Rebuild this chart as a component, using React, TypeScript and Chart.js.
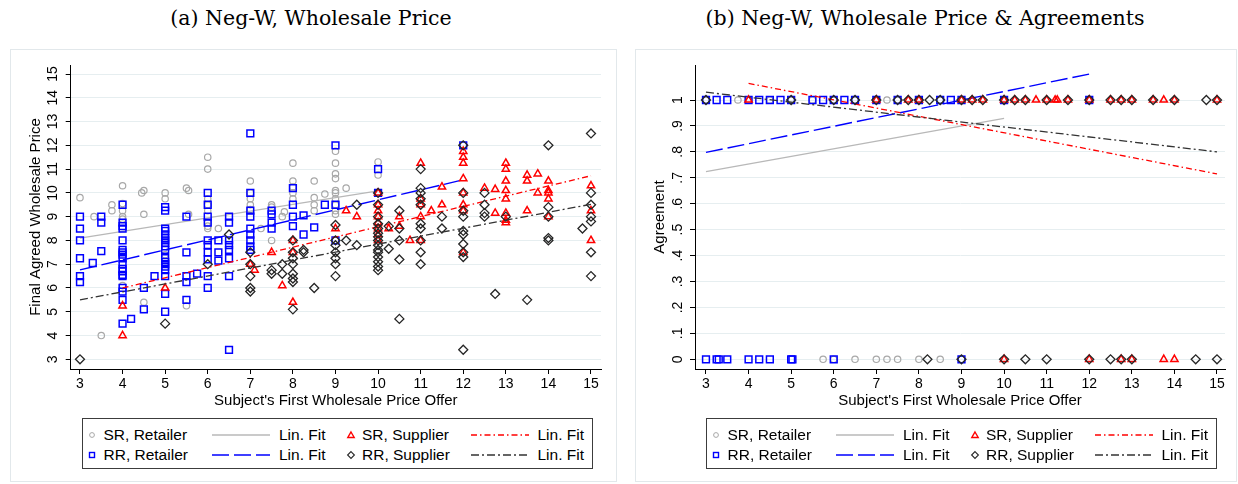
import React, { useEffect, useRef } from 'react';
import { Chart, registerables } from 'chart.js';

Chart.register(...registerables);

const SANS = "'Liberation Sans', Arial, Helvetica, sans-serif";
const SERIF = "'DejaVu Serif', 'Liberation Serif', serif";

const X_TICKS = [3, 4, 5, 6, 7, 8, 9, 10, 11, 12, 13, 14, 15];
const Y_TICKS_A = [3, 4, 5, 6, 7, 8, 9, 10, 11, 12, 13, 14, 15];
const Y_TICKS_B = [0, 0.1, 0.2, 0.3, 0.4, 0.5, 0.6, 0.7, 0.8, 0.9, 1];

const LEGEND_LABELS = ['SR, Retailer', 'RR, Retailer', 'SR, Supplier', 'RR, Supplier'];
const FIT_LABEL = 'Lin. Fit';
const X_TITLE = "Subject's First Wholesale Price Offer";
const Y_TITLE_A = 'Final Agreed Wholesale Price';
const Y_TITLE_B = 'Agreement';
const TITLE_A = '(a) Neg-W, Wholesale Price';
const TITLE_B = '(b) Neg-W, Wholesale Price & Agreements';

// ---------- Panel (a): final agreed wholesale price ----------
const SR_RETAILER_A: [number, number][] = [
  [3, 9.8], [3.33, 9.0], [3.5, 4.0], [3.75, 9.5], [3.75, 9.25],
  [4, 10.3], [4, 9.55], [4, 9.25], [4, 9.0], [4, 8.9], [4, 6.1],
  [4.45, 10.0], [4.5, 10.1], [4.5, 9.1], [4.5, 5.4],
  [5, 10.0], [5, 9.75], [5, 7.4],
  [5.5, 10.2], [5.55, 10.1], [5.55, 9.1], [5.5, 5.25],
  [6, 11.5], [6, 11.0], [6, 9.75], [6, 9.5], [6, 9.25], [6, 8.75], [6, 8.6], [6, 8.5], [6.25, 8.5],
  [7, 10.5], [7, 10.0], [7, 9.75], [7, 9.5], [7, 9.3], [7.25, 8.5],
  [7.5, 9.5], [7.5, 9.4], [7.5, 8.0], [7.75, 9.0], [7.8, 9.2],
  [8, 11.25], [8, 10.5], [8, 10.25], [8, 10.0], [8, 9.75],
  [8.5, 10.5], [8.5, 9.8], [8.5, 9.5], [8.5, 9.25], [8.75, 9.95],
  [9, 11.75], [9, 11.25], [9, 10.8], [9, 10.6], [9, 10.1], [9, 10.0], [9, 9.75], [9, 9.5], [9, 9.25], [9, 9.1],
  [9.25, 10.2],
  [10, 11.3], [10, 10.75], [10, 10.0],
];

const RR_RETAILER_A: [number, number][] = [
  [3, 9.0], [3, 8.5], [3, 8.0], [3, 7.25], [3, 6.5], [3, 6.25],
  [3.3, 7.05],
  [3.5, 9.0], [3.5, 8.75], [3.5, 7.55],
  [4, 9.5], [4, 8.75], [4, 8.6], [4, 8.5], [4, 8.0], [4, 7.6], [4, 7.5], [4, 7.4], [4, 7.25], [4, 7.0],
  [4, 6.8], [4, 6.7], [4, 6.55], [4, 6.5], [4, 6.0], [4, 5.85], [4, 5.5], [4, 4.5],
  [4.2, 4.7], [4.5, 6.0], [4.5, 5.1], [4.75, 6.5],
  [5, 9.4], [5, 9.25], [5, 8.5], [5, 8.4], [5, 8.25], [5, 8.1], [5, 8.0], [5, 7.9], [5, 7.75], [5, 7.6],
  [5, 7.25], [5, 7.1], [5, 7.0], [5, 6.9], [5, 6.75], [5, 6.5], [5, 5.75], [5, 5.0],
  [5.5, 9.0], [5.5, 7.5], [5.5, 6.5], [5.5, 6.25], [5.5, 5.5],
  [5.75, 6.6],
  [6, 10.0], [6, 9.5], [6, 9.0], [6, 8.75], [6, 8.0], [6, 7.8], [6, 7.5], [6, 7.2], [6, 6.5], [6, 6.0],
  [6.25, 8.0], [6.25, 7.5], [6.25, 7.15],
  [6.5, 9.0], [6.5, 8.75], [6.5, 8.0], [6.5, 7.8], [6.5, 7.6], [6.5, 7.25], [6.5, 6.5], [6.5, 3.4],
  [7, 12.5], [7, 10.0], [7, 9.25], [7, 9.0], [7, 8.5], [7, 8.25], [7, 8.0], [7, 7.75], [7, 7.6],
  [7.5, 9.25], [7.5, 9.1], [7.5, 8.75], [7.5, 8.5],
  [8, 10.2], [8, 9.5], [8, 9.0], [8, 8.6],
  [8.25, 9.05], [8.25, 8.25], [8.5, 8.55], [8.75, 9.5],
  [9, 12.0], [9, 9.5], [9, 8.0],
  [10, 11.0], [10, 10.0],
  [12, 12.0],
];

const SR_SUPPLIER_A: [number, number][] = [
  [4, 5.25], [4, 4.0], [5, 6.0], [7, 7.0], [7.1, 6.75], [7.5, 7.5], [7.75, 6.1],
  [8, 8.0], [8, 7.5], [8, 5.4], [9, 8.5], [9.25, 9.25], [9.5, 9.0],
  [10, 10.0], [10, 9.5], [10, 9.25], [10, 9.0], [10, 8.75], [10, 8.5], [10, 8.25], [10, 8.0],
  [10.25, 8.5], [10.5, 9.0], [10.5, 8.6], [10.75, 8.0],
  [11, 11.25], [11, 9.75], [11, 9.5], [11, 9.0], [11, 8.0],
  [11.25, 9.25], [11.5, 10.25], [11.5, 9.5],
  [12, 11.75], [12, 11.5], [12, 11.25], [12, 10.6], [12, 10.0], [12, 9.5], [12, 9.25], [12, 7.5],
  [12.5, 10.2], [12.75, 10.15], [12.75, 9.15],
  [13, 11.25], [13, 11.0], [13, 10.5], [13, 10.1], [13, 9.75], [13, 9.15], [13, 8.85], [13, 8.75],
  [13.5, 10.75], [13.5, 10.5], [13.5, 9.25], [13.75, 10.8], [13.75, 10.0],
  [14, 10.5], [14, 10.1], [14, 10.0], [14, 9.75], [14, 9.0],
  [15, 10.3], [15, 9.25], [15, 8.0],
];

const RR_SUPPLIER_A: [number, number][] = [
  [3, 3.0], [5, 4.5], [6, 7.0], [6.5, 8.25],
  [7, 7.5], [7, 7.0], [7, 6.5], [7, 6.0], [7, 5.85],
  [7.5, 6.75], [7.5, 6.6], [7.75, 7.0], [7.75, 6.6],
  [8, 8.0], [8, 7.5], [8, 7.25], [8, 7.0], [8, 6.6], [8, 6.4], [8, 6.25], [8, 5.1],
  [8.25, 7.6], [8.25, 7.5], [8.5, 6.0],
  [9, 8.65], [9, 8.0], [9, 7.8], [9, 7.5], [9, 7.25], [9, 7.0], [9, 6.5],
  [9.25, 8.0], [9.5, 9.5], [9.5, 7.8],
  [10, 10.0], [10, 9.5], [10, 9.0], [10, 8.7], [10, 8.5], [10, 8.3], [10, 8.15], [10, 8.0], [10, 7.8],
  [10, 7.6], [10, 7.5], [10, 7.3], [10, 7.1], [10, 6.9], [10, 6.75],
  [10.25, 8.6], [10.25, 7.65],
  [10.5, 9.25], [10.5, 8.5], [10.5, 8.0], [10.5, 7.2], [10.5, 4.7],
  [11, 11.0], [11, 10.2], [11, 10.0], [11, 9.75], [11, 9.5], [11, 8.7], [11, 8.5], [11, 8.0], [11, 7.5], [11, 7.0],
  [11.5, 9.0], [11.5, 8.5],
  [12, 12.0], [12, 10.0], [12, 9.25], [12, 9.0], [12, 8.4], [12, 8.25], [12, 7.85], [12, 7.5], [12, 7.3], [12, 3.4],
  [12.5, 10.0], [12.5, 9.5], [12.5, 9.15], [12.5, 9.0],
  [12.75, 5.75], [13, 9.0], [13.5, 5.5],
  [14, 12.0], [14, 9.4], [14, 9.0], [14, 8.1], [14, 8.0],
  [14.8, 8.5],
  [15, 12.5], [15, 10.0], [15, 9.5], [15, 9.0], [15, 8.8], [15, 7.5], [15, 6.5],
];

const FIT_SR_RETAILER_A: [number, number][] = [[3, 8.1], [10, 10.08]];
const FIT_RR_RETAILER_A: [number, number][] = [[3, 6.76], [12, 10.55]];
const FIT_SR_SUPPLIER_A: [number, number][] = [[4, 6.0], [15, 10.72]];
const FIT_RR_SUPPLIER_A: [number, number][] = [[3, 5.5], [15, 9.52]];

// ---------- Panel (b): agreement (1) / no agreement (0) ----------
const SR_RETAILER_AGREE = [3, 3.75, 4, 4.5, 5, 5.5, 6, 6.5, 7, 7.25, 7.5, 8, 8.5, 9, 10];
const SR_RETAILER_NOAGREE = [5.75, 6, 6.5, 7, 7.25, 7.5, 8, 8.5, 9];
const RR_RETAILER_AGREE = [3, 3.25, 3.5, 4, 4.25, 4.5, 4.75, 5, 5.5, 5.75, 6, 6.25, 6.5, 7, 7.5, 8, 8.5, 8.75, 9, 10, 12];
const RR_RETAILER_NOAGREE = [3, 3.25, 3.3, 3.5, 4, 4.25, 4.5, 5, 5.03, 6, 9];
const SR_SUPPLIER_AGREE = [4, 7, 7.75, 8, 9, 9.25, 9.5, 10, 10.25, 10.5, 10.75, 11, 11.2, 11.25, 11.5, 12, 12.5, 12.75, 13, 13.5, 13.75, 14, 15];
const SR_SUPPLIER_NOAGREE = [10, 12, 12.75, 13, 13.75, 14];
const RR_SUPPLIER_AGREE = [3, 5, 6, 6.5, 7, 7.5, 7.75, 8, 8.25, 8.5, 9, 9.25, 9.5, 10, 10.25, 10.5, 11, 11.5, 12, 12.5, 12.75, 13, 13.5, 14, 14.75, 15];
const RR_SUPPLIER_NOAGREE = [8.2, 9, 10, 10.5, 11, 12, 12.5, 12.75, 13, 14.5, 15];

const FIT_SR_RETAILER_B: [number, number][] = [[3, 0.724], [10, 0.929]];
const FIT_RR_RETAILER_B: [number, number][] = [[3, 0.798], [12, 1.1]];
const FIT_SR_SUPPLIER_B: [number, number][] = [[4, 1.064], [15, 0.715]];
const FIT_RR_SUPPLIER_B: [number, number][] = [[3, 1.03], [15, 0.8]];

// ---------- styles ----------
const GRAY_MK = '#a8a8a8';
const GRAY_LN = '#b8b8b8';
const BLUE = '#0000ff';
const RED = '#ff0000';
const DARK = '#262626';
const GRID = '#e6eef0';
const DASH_BLUE = [17, 5];
const DASH_RED = [6, 3, 1.5, 3];
const DASH_DARK = [8, 3, 2, 3];

const toPts = (a: [number, number][]) => a.map(([x, y]) => ({ x, y }));
const binPts = (ones: number[], zeros: number[]) => [
  ...ones.map((x) => ({ x, y: 1 })),
  ...zeros.map((x) => ({ x, y: 0 })),
];

type Spec = {
  srRet: any[]; rrRet: any[]; srSup: any[]; rrSup: any[];
  fSrRet: any[]; fRrRet: any[]; fSrSup: any[]; fRrSup: any[];
  xMin: number; xMax: number; yMin: number; yMax: number;
  yTicks: number[]; yFmt: (v: number) => string;
  yTitle: string; yWidth: number; yTickPad: number; yTitlePad: number; padRight: number;
};

function makeConfig(s: Spec): any {
  const marker = (label: string, data: any[], style: string, r: number, color: string, bw: number, order: number) => ({
    label, data, order, showLine: false,
    pointStyle: style, pointRadius: r, pointHoverRadius: r,
    pointBorderColor: color, pointBackgroundColor: 'rgba(0,0,0,0)', pointBorderWidth: bw,
    borderColor: color, backgroundColor: 'rgba(0,0,0,0)',
  });
  const fit = (data: any[], color: string, w: number, dash: number[], order: number) => ({
    label: FIT_LABEL, data, order, showLine: true, pointRadius: 0, pointHoverRadius: 0,
    borderColor: color, borderWidth: w, borderDash: dash, backgroundColor: 'rgba(0,0,0,0)',
  });
  return {
    type: 'scatter',
    data: {
      datasets: [
        marker(LEGEND_LABELS[0], s.srRet, 'circle', 3.2, GRAY_MK, 1.2, 8),
        fit(s.fSrRet, GRAY_LN, 1.3, [], 7),
        marker(LEGEND_LABELS[1], s.rrRet, 'rect', 4.8, BLUE, 1.5, 6),
        fit(s.fRrRet, BLUE, 1.4, DASH_BLUE, 5),
        marker(LEGEND_LABELS[2], s.srSup, 'triangle', 4.2, RED, 1.5, 4),
        fit(s.fSrSup, RED, 1.3, DASH_RED, 3),
        marker(LEGEND_LABELS[3], s.rrSup, 'rectRot', 4.5, DARK, 1.3, 2),
        fit(s.fRrSup, '#333333', 1.3, DASH_DARK, 1),
      ],
    },
    options: {
      responsive: false,
      animation: false,
      events: [],
      devicePixelRatio: 1,
      layout: { padding: { left: 0, right: s.padRight, top: 15, bottom: 66 } },
      plugins: { legend: { display: false }, tooltip: { enabled: false }, title: { display: false } },
      scales: {
        x: {
          type: 'linear',
          min: s.xMin,
          max: s.xMax,
          afterBuildTicks: (sc: any) => { sc.ticks = X_TICKS.map((v) => ({ value: v })); },
          afterFit: (sc: any) => { sc.height = 45; },
          grid: { display: true, drawOnChartArea: false, drawTicks: true, tickLength: 5, tickColor: '#000', color: '#000' },
          border: { display: true, color: '#000', width: 1 },
          ticks: { padding: 2, color: '#000', autoSkip: false, maxRotation: 0, font: { family: SANS, size: 14 } },
          title: { display: true, text: X_TITLE, color: '#000', font: { family: SANS, size: 15 }, padding: { top: 0, bottom: 4 } },
        },
        y: {
          type: 'linear',
          min: s.yMin,
          max: s.yMax,
          afterBuildTicks: (sc: any) => { sc.ticks = s.yTicks.map((v) => ({ value: v })); },
          afterFit: (sc: any) => { sc.width = s.yWidth; },
          grid: { display: true, color: GRID, lineWidth: 1, drawTicks: true, tickLength: 5, tickColor: '#000' },
          border: { display: true, color: '#000', width: 1 },
          ticks: {
            padding: s.yTickPad, color: '#000', minRotation: 90, maxRotation: 90, crossAlign: 'center',
            font: { family: SANS, size: 14 },
            callback: (v: any) => s.yFmt(Number(v)),
          },
          title: { display: true, text: s.yTitle, color: '#000', font: { family: SANS, size: 15 }, padding: { top: s.yTitlePad, bottom: 0 } },
        },
      },
    },
  };
}

const SPEC_A: Spec = {
  srRet: toPts(SR_RETAILER_A), rrRet: toPts(RR_RETAILER_A), srSup: toPts(SR_SUPPLIER_A), rrSup: toPts(RR_SUPPLIER_A),
  fSrRet: toPts(FIT_SR_RETAILER_A), fRrRet: toPts(FIT_RR_RETAILER_A), fSrSup: toPts(FIT_SR_SUPPLIER_A), fRrSup: toPts(FIT_RR_SUPPLIER_A),
  xMin: 2.782, xMax: 15.235, yMin: 2.592, yMax: 15.379,
  yTicks: Y_TICKS_A, yFmt: (v) => String(v),
  yTitle: Y_TITLE_A, yWidth: 60.7, yTickPad: 4.6, yTitlePad: 17, padRight: 15,
};

const SPEC_B: Spec = {
  srRet: binPts(SR_RETAILER_AGREE, SR_RETAILER_NOAGREE),
  rrRet: binPts(RR_RETAILER_AGREE, RR_RETAILER_NOAGREE),
  srSup: binPts(SR_SUPPLIER_AGREE, SR_SUPPLIER_NOAGREE),
  rrSup: binPts(RR_SUPPLIER_AGREE, RR_SUPPLIER_NOAGREE),
  fSrRet: toPts(FIT_SR_RETAILER_B), fRrRet: toPts(FIT_RR_RETAILER_B), fSrSup: toPts(FIT_SR_SUPPLIER_B), fRrSup: toPts(FIT_RR_SUPPLIER_B),
  xMin: 2.742, xMax: 15.188, yMin: -0.0374, yMax: 1.135,
  yTicks: Y_TICKS_B,
  yFmt: (v) => (Math.abs(v) < 1e-9 ? '0' : Math.abs(v - 1) < 1e-9 ? '1' : '.' + Math.round(v * 10)),
  yTitle: Y_TITLE_B, yWidth: 60, yTickPad: 6.2, yTitlePad: 16, padRight: 11,
};

function ChartCanvas({ spec, left, top, width, height }: { spec: Spec; left: number; top: number; width: number; height: number }) {
  const ref = useRef<HTMLCanvasElement>(null);
  useEffect(() => {
    const chart = new Chart(ref.current as HTMLCanvasElement, makeConfig(spec));
    return () => chart.destroy();
  }, [spec]);
  return (
    <canvas ref={ref} width={width} height={height}
      style={{ position: 'absolute', left, top, width, height, display: 'block' }} />
  );
}

function MarkerIcon({ kind }: { kind: number }) {
  const common = { fill: 'none' } as any;
  let shape: any = null;
  if (kind === 0) shape = <circle cx={6} cy={6} r={2.4} stroke={GRAY_MK} strokeWidth={1} {...common} />;
  if (kind === 1) shape = <rect x={3.5} y={3.5} width={5} height={5} stroke={BLUE} strokeWidth={1.4} {...common} />;
  if (kind === 2) shape = <polygon points="6,3 9.2,8.5 2.8,8.5" stroke={RED} strokeWidth={1.4} {...common} />;
  if (kind === 3) shape = <polygon points="6,2.6 9.4,6 6,9.4 2.6,6" stroke={DARK} strokeWidth={1.1} {...common} />;
  return <svg width={12} height={12} style={{ display: 'block' }}>{shape}</svg>;
}

function LineIcon({ color, dash, w }: { color: string; dash: number[]; w: number }) {
  return (
    <svg width={58} height={4} style={{ display: 'block' }}>
      <line x1={0} y1={2} x2={58} y2={2} stroke={color} strokeWidth={w}
        strokeDasharray={dash.length ? dash.join(' ') : undefined} />
    </svg>
  );
}

function Legend({ left }: { left: number }) {
  const rowY = [16, 36];
  const textStyle: React.CSSProperties = {
    position: 'absolute', fontFamily: SANS, fontSize: 15.5, lineHeight: '18px', color: '#000', whiteSpace: 'nowrap',
  };
  const cells: any[] = [];
  const lines = [
    { color: GRAY_LN, dash: [] as number[], w: 1.3 },
    { color: BLUE, dash: DASH_BLUE, w: 1.4 },
    { color: RED, dash: DASH_RED, w: 1.3 },
    { color: '#333333', dash: DASH_DARK, w: 1.3 },
  ];
  // layout: col0 marker, col1 line, col2 marker, col3 line
  const order = [[0, 2], [1, 3]];
  order.forEach((pair, row) => {
    const y = rowY[row];
    pair.forEach((k, c) => {
      const base = c === 0 ? 0 : 258.5;
      cells.push(
        <div key={`m${row}${c}`} style={{ position: 'absolute', left: base + 9 - 6, top: y - 6 }}><MarkerIcon kind={k} /></div>,
        <div key={`t${row}${c}`} style={{ ...textStyle, left: base + 20.5, top: y - 9 }}>{LEGEND_LABELS[k]}</div>,
        <div key={`l${row}${c}`} style={{ position: 'absolute', left: base + 129, top: y - 2 }}><LineIcon {...lines[k]} /></div>,
        <div key={`f${row}${c}`} style={{ ...textStyle, left: base + 196, top: y - 9 }}>{FIT_LABEL}</div>,
      );
    });
  });
  return (
    <div style={{ position: 'absolute', left, top: 418, width: 511, height: 51, border: '1px solid #3c3c3c', boxSizing: 'border-box', background: '#fff' }}>
      {cells}
    </div>
  );
}

function Title({ text, center }: { text: string; center: number }) {
  return (
    <div style={{
      position: 'absolute', left: center - 300, width: 600, top: 5, height: 26, lineHeight: '26px',
      textAlign: 'center', fontFamily: SERIF, fontSize: 20.5, color: '#000', whiteSpace: 'nowrap',
    }}>{text}</div>
  );
}

export default function App() {
  return (
    <div style={{ position: 'absolute', left: 0, top: 0, width: 1238, height: 484, background: '#fff', overflow: 'hidden' }}>
      <Title text={TITLE_A} center={311} />
      <Title text={TITLE_B} center={925} />
      <div style={{ position: 'absolute', left: 10, top: 49, width: 607, height: 433, border: '1px solid #e2e8eb', boxSizing: 'border-box' }} />
      <div style={{ position: 'absolute', left: 635, top: 49, width: 602, height: 433, border: '1px solid #e2e8eb', boxSizing: 'border-box' }} />
      <ChartCanvas spec={SPEC_A} left={10} top={50} width={606} height={430} />
      <ChartCanvas spec={SPEC_B} left={635} top={50} width={601} height={430} />
      <Legend left={82} />
      <Legend left={706} />
    </div>
  );
}
